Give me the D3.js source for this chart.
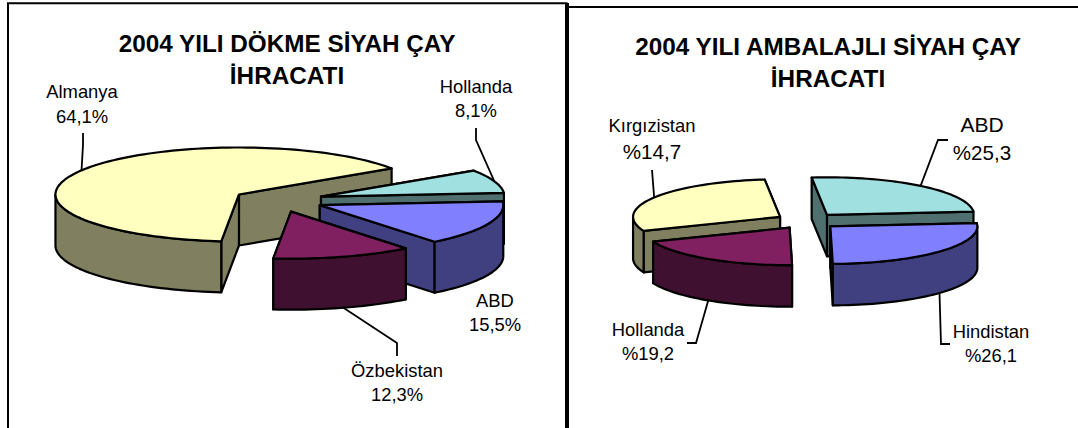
<!DOCTYPE html>
<html>
<head>
<meta charset="utf-8">
<script src="https://cdn.jsdelivr.net/npm/d3@7/dist/d3.min.js"></script>
<style>
html,body{margin:0;padding:0;background:#fff;overflow:hidden}
svg{display:block}
text{font-family:"Liberation Sans",Arial,sans-serif;fill:#000}
</style>
</head>
<body>
<svg id="c" width="1078" height="428"></svg>
<script>
// ---- data ----
const dokmeTitle = ["2004 YILI DÖKME SİYAH ÇAY", "İHRACATI"];
const dokmeCategories = ["Hollanda", "ABD", "Özbekistan", "Almanya"];
const dokmeValues = [8.1, 15.5, 12.3, 64.1];
const dokmeValueLabels = ["8,1%", "15,5%", "12,3%", "64,1%"];

const ambalajliTitle = ["2004 YILI AMBALAJLI SİYAH ÇAY", "İHRACATI"];
const ambalajliCategories = ["ABD", "Hindistan", "Hollanda", "Kırgızistan"];
const ambalajliValues = [25.3, 26.1, 19.2, 29.4];   // slice size as drawn (label reads %14,7)
const ambalajliValueLabels = ["%25,3", "%26,1", "%19,2", "%14,7"];

// ---- styles: [top, side] ----
const topColors = ["#A0E0E0", "#8080FF", "#802060", "#FFFFC0"];
const sideColors = ["#507070", "#404080", "#401030", "#808060"];

const svg = d3.select("#c");
const rad = d => d * Math.PI / 180;

function drawPie(cfg) {
  const g = svg.append("g");
  const xs = d3.scaleLinear().domain([-1, 1]).range([cfg.cx - cfg.rx, cfg.cx + cfg.rx]);
  const ys = d3.scaleLinear().domain([-1, 1]).range([cfg.cy - cfg.ry, cfg.cy + cfg.ry]);
  const line = d3.line();
  const pie = d3.pie().sort(null).startAngle(rad(cfg.start)).endAngle(rad(cfg.start + 360));
  const arcs = pie(cfg.values).map((a, i) => {
    const mid = (a.startAngle + a.endAngle) / 2;
    const e = cfg.explode;
    return {i, a0: a.startAngle, a1: a.endAngle, mid,
            ox: Math.sin(mid) * e, oy: -Math.cos(mid) * e};
  });
  const pt = (s, ang, r = 1, dz = 0) => [
    xs(s.ox + Math.sin(ang) * r),
    ys(s.oy - Math.cos(ang) * r) + dz
  ];
  const arcPts = (s, a, b, dz = 0) => {
    const n = Math.max(2, Math.ceil(Math.abs(b - a) / rad(2)));
    return d3.range(n + 1).map(k => pt(s, a + (b - a) * k / n, 1, dz));
  };

  const order = arcs.slice().sort((p, q) => Math.cos(q.mid) - Math.cos(p.mid));
  const d = cfg.depth;
  const sw = 2.2;
  order.forEach(s => {
    const side = sideColors[s.i], top = topColors[s.i];
    const sg = g.append("g");
    const tip = pt(s, 0, 0);
    const walls = [s.a0, s.a1].map(a => {
      const p = pt(s, a);
      return {y: (p[1] + tip[1]) / 2,
              pts: [tip, p, [p[0], p[1] + d], [tip[0], tip[1] + d]]};
    }).sort((u, v) => u.y - v.y);
    walls.forEach(w => sg.append("path")
      .attr("d", line(w.pts) + "Z")
      .attr("fill", side).attr("stroke", "#000").attr("stroke-width", sw).attr("stroke-linejoin", "round"));
    // outer rim: the parts on the viewer's side of the pie
    [[rad(90), rad(270)], [rad(450), rad(630)]].forEach(([lo, hi]) => {
      const a = Math.max(lo, s.a0), b = Math.min(hi, s.a1);
      if (b > a) {
        const pts = arcPts(s, a, b).concat(arcPts(s, b, a, d));
        sg.append("path").attr("d", line(pts) + "Z")
          .attr("fill", side).attr("stroke", "#000").attr("stroke-width", sw).attr("stroke-linejoin", "round");
      }
    });
    sg.append("path")
      .attr("d", line([tip].concat(arcPts(s, s.a0, s.a1))) + "Z")
      .attr("fill", top).attr("stroke", "#000").attr("stroke-width", sw).attr("stroke-linejoin", "round");
  });

  // leaders start on the rim at each slice's middle angle
  cfg.leaders.forEach((l, idx) => {
    if (!l) return;
    const s = arcs[idx];
    const a = pt(s, s.mid, 1, l.front ? d : 0);
    g.append("path").attr("d", line([a].concat(l.path)))
      .attr("fill", "none").attr("stroke", "#000").attr("stroke-width", 1.8);
  });

  // texts
  cfg.title.forEach((t, i) => g.append("text")
    .attr("x", cfg.titleX).attr("y", cfg.titleY[i])
    .attr("text-anchor", "middle").attr("font-size", cfg.titleSize).attr("font-weight", "bold").text(t));
  cfg.categories.forEach((c, i) => {
    const p = cfg.labels[i];
    g.append("text").attr("x", p.x).attr("y", p.y0).attr("text-anchor", "middle")
      .attr("font-size", p.s0 || 18.4).text(c);
    g.append("text").attr("x", p.x).attr("y", p.y1).attr("text-anchor", "middle")
      .attr("font-size", p.s1 || 18.4).text(cfg.valueLabels[i]);
  });
}

// frames
svg.append("path").attr("d", d3.line()([[8, 428], [8, 3.2], [567.5, 3.2]]))
  .attr("fill", "none").attr("stroke", "#000").attr("stroke-width", 2);
svg.append("line").attr("x1", 567).attr("x2", 567).attr("y1", 3).attr("y2", 428)
  .attr("stroke", "#000").attr("stroke-width", 4);
svg.append("line").attr("x1", 567).attr("x2", 1078).attr("y1", 6.9).attr("y2", 6.9)
  .attr("stroke", "#000").attr("stroke-width", 2);

drawPie({
  title: dokmeTitle, categories: dokmeCategories, values: dokmeValues, valueLabels: dokmeValueLabels,
  cx: 278, cy: 200.5, rx: 183.5, ry: 47, depth: 51, explode: 0.248, start: 56.3,
  titleX: 287, titleY: [52, 84], titleSize: 24.3,
  labels: [
    {x: 476, y0: 93, y1: 117},
    {x: 495, y0: 307, y1: 331},
    {x: 397, y0: 377, y1: 401},
    {x: 82, y0: 98, y1: 123}
  ],
  leaders: [
    {path: [[476, 140], [476, 128]]},
    null,
    {front: true, path: [[397, 343], [397, 356]]},
    {path: [[83, 145], [83, 133]]}
  ]
});

drawPie({
  title: ambalajliTitle, categories: ambalajliCategories, values: ambalajliValues, valueLabels: ambalajliValueLabels,
  cx: 807, cy: 221, rx: 147, ry: 37.5, depth: 41.5, explode: 0.214, start: -6,
  titleX: 828, titleY: [55, 87], titleSize: 24.3,
  labels: [
    {x: 982, y0: 132, y1: 160, s0: 21, s1: 20.6},
    {x: 991, y0: 338, y1: 362},
    {x: 648, y0: 336, y1: 360},
    {x: 652, y0: 132, y1: 159, s1: 20.6}
  ],
  leaders: [
    {path: [[938, 140], [948, 140]]},
    {front: true, path: [[941, 344], [950, 344]]},
    {front: true, path: [[696, 343], [687, 343]]},
    {path: [[652, 170]]}
  ]
});
</script>
</body>
</html>
